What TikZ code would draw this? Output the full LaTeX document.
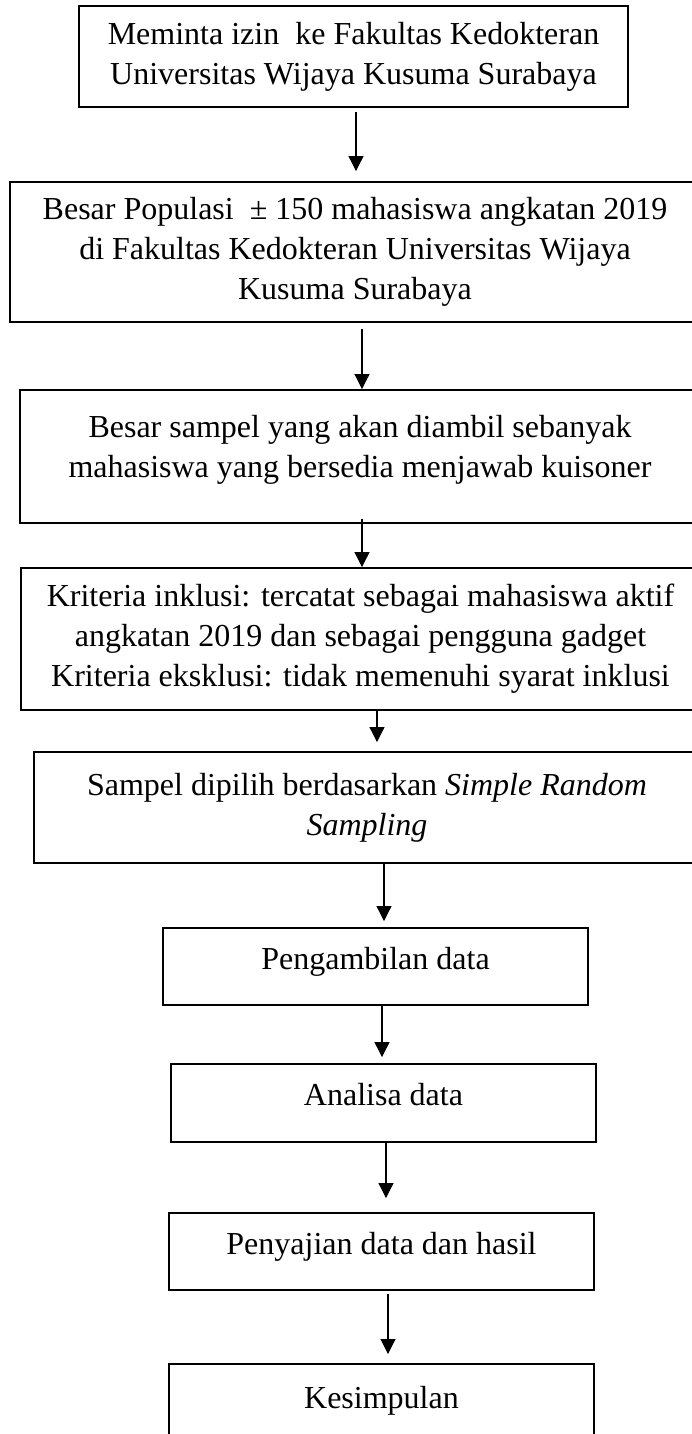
\documentclass[tikz,border=0pt]{standalone}
\usepackage{fontspec}
\setmainfont{Liberation Serif}
\usetikzlibrary{arrows.meta}

\begin{document}
\begin{tikzpicture}[x=0.375pt, y=-0.375pt,
  box/.style={draw, line width=0.7pt, align=center, inner sep=0pt, font=\fontsize{12}{15}\selectfont},
  hightext/.style={text height=9pt, text depth=7pt},
  arr/.style={-{Triangle[width=5.6pt, length=5.6pt]}, line width=0.4pt}]
  \useasboundingbox (0,0) rectangle (691,1434);

  \node[box, minimum width=205.9pt, minimum height=37.9pt] (izin) at (353.5,56.5) {Meminta izin~ ke Fakultas Kedokteran\\Universitas Wijaya Kusuma Surabaya};
  \node[box, minimum width=258.75pt, minimum height=52.5pt] (populasi) at (355,252) {Besar Populasi~ ± 150 mahasiswa angkatan 2019\\di Fakultas Kedokteran Universitas Wijaya\\Kusuma Surabaya};
  \node[box, minimum width=255pt, minimum height=49.9pt, text depth=7.5pt] (sampel) at (360,456.5) {Besar sampel yang akan diambil sebanyak\\mahasiswa yang bersedia menjawab kuisoner};
  \node[box, minimum width=254.6pt, minimum height=53.25pt] (kriteria) at (360.5,639) {Kriteria inklusi: tercatat sebagai mahasiswa aktif\\angkatan 2019 dan sebagai pengguna gadget\\Kriteria eksklusi: tidak memenuhi syarat inklusi};
  \node[box, minimum width=249.75pt, minimum height=41.6pt] (acak) at (367,807.5) {Sampel dipilih berdasarkan \textit{Simple Random}\\\textit{Sampling}};
  \node[box, hightext, minimum width=159.4pt, minimum height=28.9pt] (ambil) at (375.5,966.5) {Pengambilan data};
  \node[box, hightext, minimum width=159.4pt, minimum height=29.25pt] (analisa) at (383.5,1103) {Analisa data};
  \node[box, hightext, minimum width=159.4pt, minimum height=28.9pt] (sajian) at (381.5,1251.5) {Penyajian data dan hasil};
  \node[box, minimum width=159.4pt, minimum height=27.75pt] (simpul) at (381.5,1401) {Kesimpulan};

  % x of each arrow
  \coordinate (k1) at (356,0);
  \coordinate (k2) at (362,0);
  \coordinate (k3) at (362,0);
  \coordinate (k4) at (377,0);
  \coordinate (k5) at (384,0);
  \coordinate (k6) at (382,0);
  \coordinate (k7) at (386,0);
  \coordinate (k8) at (388,0);

  \draw[arr, shorten <=1.5pt, shorten >=3.75pt] (izin.south -| k1) -- (populasi.north -| k1);
  \draw[arr, shorten <=2.25pt] (populasi.south -| k2) -- (sampel.north -| k2);
  \draw[arr, shorten <=-1.9pt] (sampel.south -| k3) -- (kriteria.north -| k3);
  \draw[arr, shorten >=3.4pt] (kriteria.south -| k4) -- (acak.north -| k4);
  \draw[arr, shorten >=2.25pt] (acak.south -| k5) -- (ambil.north -| k5);
  \draw[arr, shorten >=2.25pt] (ambil.south -| k6) -- (analisa.north -| k6);
  \draw[arr, shorten >=5.25pt] (analisa.south -| k7) -- (sajian.north -| k7);
  \draw[arr, shorten <=1.1pt, shorten >=3.4pt] (sajian.south -| k8) -- (simpul.north -| k8);
\end{tikzpicture}
\end{document}
